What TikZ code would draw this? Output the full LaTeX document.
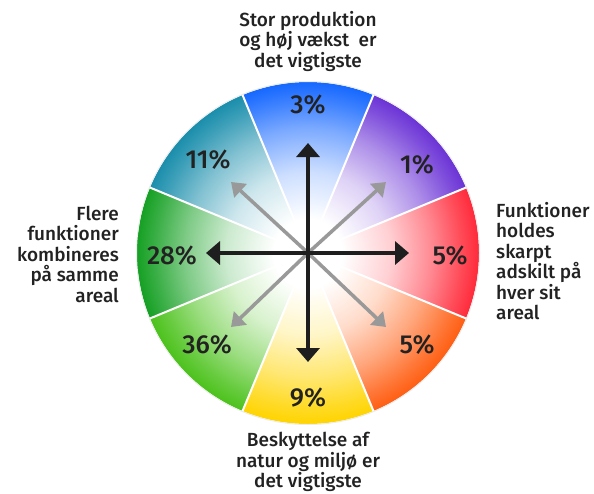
\documentclass[tikz,border=0pt]{standalone}
\usepackage{fontspec}
\setmainfont{Fira Sans Medium}
\usetikzlibrary{arrows.meta,calc}
\colorlet{seccol}{white}
\pgfdeclareradialshading[seccol]{secshade}{\pgfpoint{0bp}{0bp}}{color(0bp)=(white); color(5bp)=(white); color(12bp)=(seccol!22!white); color(18bp)=(seccol!55!white); color(22.5bp)=(seccol!85!white); color(25bp)=(seccol); color(50bp)=(seccol)}
\definecolor{cBlue}{HTML}{1668FF}
\definecolor{cPurple}{HTML}{6B33D6}
\definecolor{cRed}{HTML}{FF2A3A}
\definecolor{cOrange}{HTML}{FF5E12}
\definecolor{cYellow}{HTML}{FFD400}
\definecolor{cLGreen}{HTML}{4CC21C}
\definecolor{cGreen}{HTML}{16A024}
\definecolor{cTeal}{HTML}{1A8EAC}
\definecolor{txt}{HTML}{222222}
\definecolor{arrblack}{HTML}{1E1E1E}
\definecolor{arrgray}{HTML}{999999}
\tikzset{
  pct/.style={text=txt, font=\fontsize{26}{28}\selectfont, inner sep=0pt},
  outer/.style={text=txt, font=\fontsize{19}{20.5}\selectfont, inner sep=0pt},
  mainarrow/.style={draw=arrblack, line width=4.5pt, -{Triangle[width=23pt,length=14pt]}},
  diagarrow/.style={draw=arrgray, line width=3.5pt, -{Triangle[width=18pt,length=13pt]}},
  sepline/.style={draw=white, line width=2pt}
}
\newcommand{\mysector}[2]{%
  \colorlet{seccol}{#2}%
  \begin{scope}
    \clip (C) -- ($(C)+(#1-22.5:171)$) arc[start angle=#1-22.5, end angle=#1+22.5, radius=171] -- cycle;
    \shade[shading=secshade] (C) circle[radius=171];
  \end{scope}}
\begin{document}
\begin{tikzpicture}[x=1pt,y=-1pt]
\useasboundingbox (0,0) rectangle (594,493);
\fill[white] (0,0) rectangle (594,493);
\coordinate (C) at (308,253);
\mysector{-90}{cBlue}
\mysector{-45}{cPurple}
\mysector{0}{cRed}
\mysector{45}{cOrange}
\mysector{90}{cYellow}
\mysector{135}{cLGreen}
\mysector{180}{cGreen}
\mysector{225}{cTeal}
\foreach \a in {-67.5,-22.5,22.5,67.5,112.5,157.5,202.5,247.5}
  \draw[sepline] (C) -- ($(C)+(\a:173)$);
\draw[white!85!gray, line width=1pt] (C) circle[radius=171.5];
% arrows
\coordinate (N) at (308,143);
\coordinate (S) at (308,362);
\coordinate (W) at (206,253);
\coordinate (E) at (409,253);
\coordinate (NW) at (231,182);
\coordinate (NE) at (386,182);
\coordinate (SW) at (231,327);
\coordinate (SE) at (386,327);
\foreach \t in {NW,NE,SW,SE} \draw[diagarrow] (C) -- (\t);
\foreach \t in {N,S,W,E} \draw[mainarrow] (C) -- (\t);
% percentages
\node[pct] (p1) at (308,105) {3\%};
\node[pct] (p2) at (417,165) {1\%};
\node[pct] (p3) at (450,256) {5\%};
\node[pct] (p4) at (417,345) {5\%};
\node[pct] (p5) at (308,398) {9\%};
\node[pct] (p6) at (207,345) {36\%};
\node[pct] (p7) at (172,256) {28\%};
\node[pct] (p8) at (208,160) {11\%};
% outer labels
\node[outer, align=center] (top) at (308,41) {Stor produktion\\og høj vækst\ \ er\\det vigtigste};
\node[outer, align=right, anchor=east] (left) at (119,254) {Flere\\funktioner\\kombineres\\på samme\\areal};
\node[outer, align=left, anchor=west] (right) at (496,261) {Funktioner\\holdes\\skarpt\\adskilt på\\hver sit\\areal};
\node[outer, align=center] (bottom) at (308,462) {Beskyttelse af\\natur og miljø er\\det vigtigste};
\end{tikzpicture}
\end{document}
